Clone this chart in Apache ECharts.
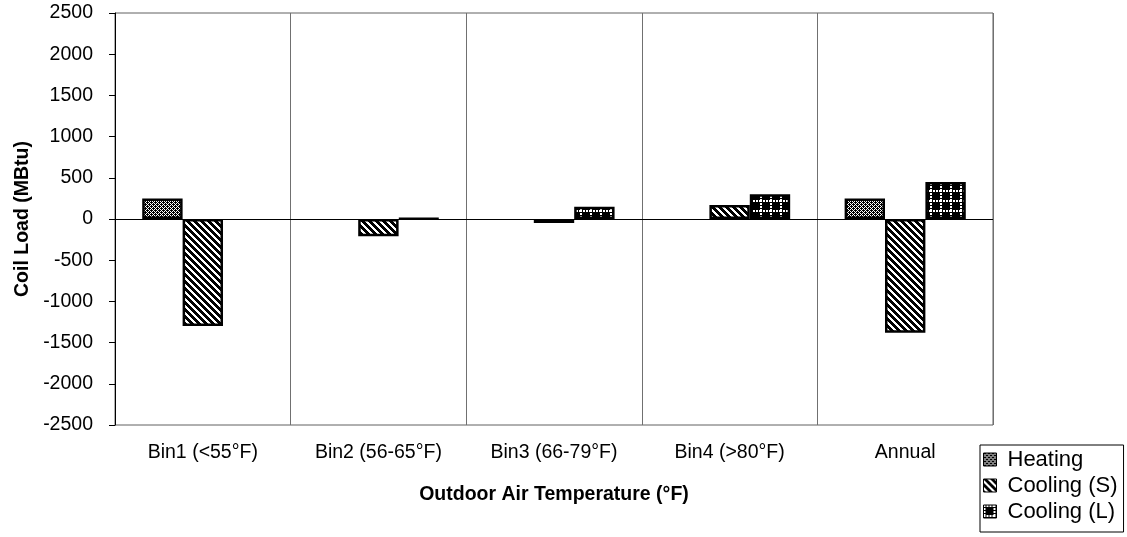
<!DOCTYPE html>
<html>
<head>
<meta charset="utf-8">
<script src="https://cdn.jsdelivr.net/npm/echarts@6/dist/echarts.min.js"></script>
<style>
html,body{margin:0;padding:0;background:#fff;}
#c{width:1127px;height:537px;}
</style>
</head>
<body>
<div id="c"></div>
<script>
const categories = ['Bin1 (<55°F)', 'Bin2 (56-65°F)', 'Bin3 (66-79°F)', 'Bin4 (>80°F)', 'Annual'];
const heating = [250, null, null, null, 250];
const coolingS = [-1300, -210, -50, 170, -1380];
const coolingL = [null, 5, 150, 300, 450];
const yTicks = { min: -2500, max: 2500, interval: 500 };

function makeCanvas(w, h, draw) {
  const c = document.createElement('canvas');
  c.width = w; c.height = h;
  const ctx = c.getContext('2d');
  draw(ctx, w, h);
  return c;
}
// Heating: fine cross-hatch
const patHeat = makeCanvas(4, 4, (ctx) => {
  ctx.fillStyle = '#fff'; ctx.fillRect(0, 0, 4, 4);
  ctx.fillStyle = '#000';
  const px = [[0,0],[2,0],[1,1],[3,1],[0,2],[2,2],[1,3],[3,3],[1,0],[3,2]];
  px.forEach(p => ctx.fillRect(p[0], p[1], 1, 1));
});
// Cooling (S): wide diagonal stripes (down-right)
const patS = makeCanvas(7, 7, (ctx) => {
  ctx.fillStyle = '#fff'; ctx.fillRect(0, 0, 7, 7);
  ctx.fillStyle = '#000';
  for (let y = 0; y < 7; y++) {
    for (let k = 0; k < 4; k++) {
      const x = (y + k) % 7;
      ctx.fillRect(x, y, 1, 1);
    }
  }
});
// Cooling (L): black with white dotted grid
const patL = makeCanvas(10, 10, (ctx) => {
  ctx.fillStyle = '#000'; ctx.fillRect(0, 0, 10, 10);
  ctx.fillStyle = '#fff';
  for (let i = 0; i < 10; i += 1) {
    if (i % 3 !== 2) { ctx.fillRect(i, 0, 1, 2); ctx.fillRect(0, i, 2, 1); }
  }
});

const font = 'Liberation Sans, Arial, sans-serif';
const chart = echarts.init(document.getElementById('c'));
function barSeries(name, data, pat) {
  return {
    name: name, type: 'bar', data: data,
    barGap: '0%', barCategoryGap: '31%',
    itemStyle: { color: { image: pat, repeat: 'repeat' }, borderColor: '#000', borderWidth: 2.5 },
    emphasis: { disabled: true }
  };
}
chart.setOption({
  animation: false,
  backgroundColor: '#fff',
  grid: { left: 115, right: 134, top: 13, bottom: 112, show: true, borderColor: '#606060', borderWidth: 1 },
  legend: {
    orient: 'vertical', left: 980, top: 445,
    padding: [2, 6, 8, 3], itemGap: 1,
    borderColor: '#000', borderWidth: 1,
    itemWidth: 13, itemHeight: 13, icon: 'rect',
    itemStyle: { borderColor: '#000', borderWidth: 1 },
    textStyle: { fontFamily: font, fontSize: 22, lineHeight: 25, color: '#000', padding: [0, 0, 0, 6] },
    data: ['Heating', 'Cooling (S)', 'Cooling (L)']
  },
  xAxis: {
    type: 'category', data: categories,
    axisLine: { show: false }, axisTick: { show: false },
    axisLabel: { fontFamily: font, fontSize: 19.5, color: '#000', margin: 18, interval: 0 },
    splitLine: { show: true, interval: 0, lineStyle: { color: '#707070', width: 1 } },
    name: 'Outdoor Air Temperature (°F)', nameLocation: 'middle', nameGap: 60,
    nameTextStyle: { fontFamily: font, fontSize: 19.5, fontWeight: 'bold', color: '#000' }
  },
  yAxis: {
    type: 'value', min: yTicks.min, max: yTicks.max, interval: yTicks.interval,
    axisLine: { show: true, onZero: false, lineStyle: { color: '#000', width: 1 } },
    axisTick: { show: true, length: 6, lineStyle: { color: '#000' } },
    axisLabel: { fontFamily: font, fontSize: 19.5, color: '#000', margin: 22, formatter: v => String(v) },
    splitLine: { show: false },
    name: 'Coil Load (MBtu)', nameLocation: 'middle', nameGap: 82,
    nameTextStyle: { fontFamily: font, fontSize: 19.5, fontWeight: 'bold', color: '#000' }
  },
  series: [
    Object.assign(barSeries('Heating', heating, patHeat), {
      markLine: { silent: true, symbol: 'none', label: { show: false },
        lineStyle: { color: '#000', width: 1, type: 'solid' }, data: [{ yAxis: 0 }] }
    }),
    barSeries('Cooling (S)', coolingS, patS),
    barSeries('Cooling (L)', coolingL, patL)
  ]
});
</script>
</body>
</html>
